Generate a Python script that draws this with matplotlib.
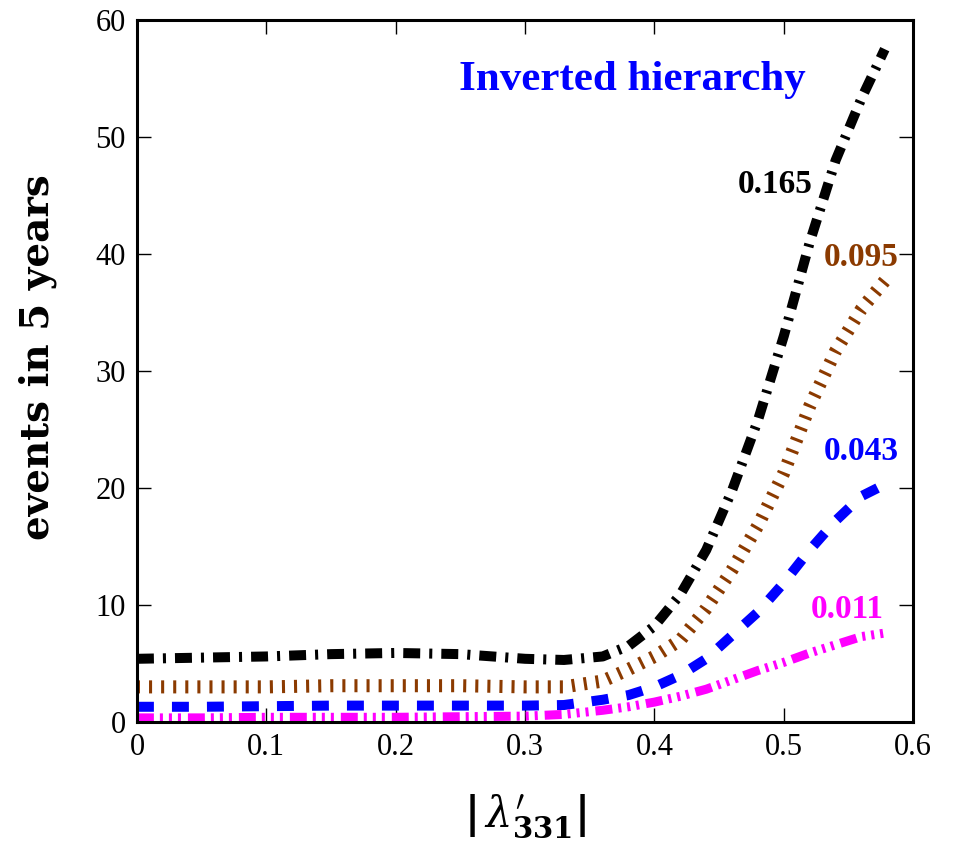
import matplotlib
matplotlib.use("Agg")
import matplotlib.pyplot as plt

# data
lam = [0, 0.05, 0.1, 0.15, 0.2, 0.25, 0.3, 0.33, 0.36, 0.38, 0.40,
       0.42, 0.44, 0.46, 0.48, 0.50, 0.52, 0.54, 0.56, 0.578]
ev_165 = [5.4, 5.5, 5.6, 5.8, 5.9, 5.8, 5.4, 5.3, 5.6, 6.5, 8.2,
          10.9, 14.7, 19.8, 25.8, 33.0, 41.0, 48.0, 53.3, 57.5]
ev_095 = [3.0, 3.0, 3.0, 3.1, 3.1, 3.1, 3.0, 3.0, 3.5, 4.5, 5.6,
          7.0, 9.7, 13.0, 16.8, 21.3, 27.0, 31.7, 35.3, 37.7]
ev_043 = [1.3, 1.3, 1.35, 1.4, 1.4, 1.4, 1.4, 1.45, 1.9, 2.3, 3.0,
          4.0, 5.4, 7.4, 9.4, 11.9, 14.7, 17.2, 19.3, 20.3]
ev_011 = [0.35, 0.35, 0.4, 0.4, 0.4, 0.45, 0.5, 0.65, 1.0, 1.3, 1.7,
          2.2, 2.8, 3.6, 4.4, 5.1, 5.9, 6.6, 7.3, 7.6]

labels = ["0.165", "0.095", "0.043", "0.011"]
label_pos = [(0.4935, 45.9), (0.560, 39.7), (0.560, 23.1), (0.549, 9.6)]

plt.rcParams['lines.scale_dashes'] = False
plt.rcParams['mathtext.fontset'] = 'dejavuserif'
serif = ['Liberation Serif', 'DejaVu Serif']

fig = plt.figure(figsize=(9.59, 8.51), dpi=100)
ax = fig.add_axes((0.1428, 0.1516, 0.8095, 0.825))

series = [
    (ev_165, 'black', 7.2, (0, (12.2, 6.5, 2.2, 6.5))),
    (ev_095, '#8b3a00', 9.4, (0, (2.2, 6.5))),
    (ev_043, 'blue', 7.2, (0, (12.2, 13.0))),
    (ev_011, 'magenta', 6.5, (0, (12.2, 4.3, 2.2, 4.3, 2.2, 4.3, 2.2, 5.0))),
]
for ys, col, lw, ls in series:
    ax.plot(lam, ys, color=col, lw=lw, linestyle=ls, dash_capstyle='butt')

for (txt, (x, y)), (_, col, _, _) in zip(zip(labels, label_pos), series):
    ax.text(x, y, txt, color=col, fontsize=24, fontweight='bold',
            family=serif, ha='center', va='center')

ax.text(0.383, 54.9, "Inverted hierarchy", color='blue', fontsize=31,
        fontweight='bold', family=serif, ha='center', va='center')

ax.set_xlim(0, 0.6)
ax.set_ylim(0, 60)
ax.set_xticks([0, 0.1, 0.2, 0.3, 0.4, 0.5, 0.6])
ax.set_xticklabels(["0", "0.1", "0.2", "0.3", "0.4", "0.5", "0.6"])
ax.set_yticks(range(0, 61, 10))
ax.tick_params(direction='in', length=10, width=1, top=True, right=True,
               labelsize=22, pad=8)
for lab in ax.get_xticklabels() + ax.get_yticklabels():
    lab.set_family(serif)
for sp in ax.spines.values():
    sp.set_linewidth(2.2)

ax.set_ylabel("events in 5 years", fontsize=28, fontweight='bold',
              family='DejaVu Serif', va='center')
ax.yaxis.set_label_coords(-0.128, 0.52)
ax.set_xlabel(r"$\mathbf{|}\,\lambda^{\prime}_{\mathbf{331}}\mathbf{|}$",
              fontsize=30, labelpad=22)

fig.savefig("out.png", dpi=100)
